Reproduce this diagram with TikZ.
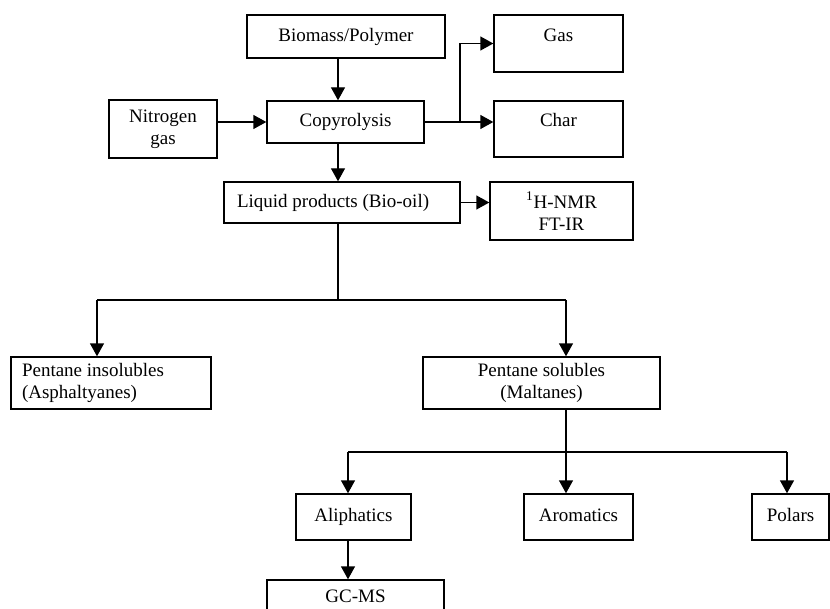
\documentclass[tikz,border=0pt]{standalone}
\usepackage{fontspec}
\setmainfont{Liberation Serif}
\usepackage{tikz}
\usetikzlibrary{arrows.meta}
\usetikzlibrary{positioning}

\begin{document}
\begin{tikzpicture}[x=0.5pt, y=-0.5pt,
                line width=0.7pt,
                blk/.style 2 args={draw, rectangle, inner sep=0pt,
                    minimum width=#1pt,
                    minimum height=#2pt,
                    align=center,
                    font=\fontsize{9.5}{11.2}\selectfont},
                oneline/.style={text height=6.8pt, text depth=2.1pt},
                toptext/.style={text height=6.8pt, text depth=9pt},
                lefttext/.style={align=flush left, text width=#1pt},
                arr/.style={-{Triangle[length=6.5pt,width=7pt]}}]
                \useasboundingbox (0,0) rectangle (830,609);
                \node[blk={99}{21.5},oneline](bio) at (346, 36.5) {Biomass/Polymer};
                \node[blk={78.5}{21},oneline](copy) at (345.5, 122) {Copyrolysis};
                \node[blk={54}{29}](nit) at (163, 129) {Nitrogen\\gas};
                \node[blk={64.5}{28.5},toptext](gas) at (558.5, 43.5) {Gas};
                \node[blk={64.5}{28},toptext](char) at (558.5, 129) {Char};
                \node[blk={118}{20.5},oneline,lefttext=105,inner xsep=6.5pt](liq) at (342, 202.5) {Liquid products (Bio-oil)};
                \node[blk={71.5}{29}](nmr) at (561.5, 211) {\textsuperscript{1}H-NMR\\FT-IR};
                \node[blk={100}{26},lefttext=89,inner xsep=5.5pt](ins) at (111, 383) {Pentane insolubles\\(Asphaltyanes)};
                \node[blk={118.5}{26}](sol) at (541.5, 383) {Pentane solubles\\(Maltanes)};
                \node[blk={57.5}{23},oneline](ali) at (353.5, 517) {Aliphatics};
                \node[blk={54.5}{23},oneline](aro) at (578.5, 517) {Aromatics};
                \node[blk={38.5}{23},oneline](pol) at (790.5, 517) {Polars};
                \node[blk={88.5}{18},oneline](gcms) at (355.5, 598) {GC-MS};
                \coordinate (trunk) at (338, 0);
                \coordinate (jn) at (460, 122);
                \coordinate (b1) at (97, 300);
                \coordinate (b2) at (566, 300);
                \coordinate (c1) at (348, 452);
                \coordinate (c2) at (566, 452);
                \coordinate (c3) at (787, 452);
                \draw[arr] (bio.south -| trunk) -- (copy.north -| trunk);
                \draw[arr] (nit.east |- copy.west) -- (copy.west);
                \draw (copy.east) -- (jn);
                \draw[arr] (jn) |- (gas.west);
                \draw[arr] (jn) -- (char.west |- jn);
                \draw[arr] (copy.south -| trunk) -- (liq.north -| trunk);
                \draw[arr] (liq.east) -- (liq.east -| nmr.west);
                \draw (liq.south -| trunk) -- (trunk |- b1);
                \draw (b1) -- (b2);
                \draw[arr] (b1) -- (ins.north -| b1);
                \draw[arr] (b2) -- (sol.north -| b2);
                \draw (sol.south -| c2) -- (c2);
                \draw (c1) -- (c3);
                \draw[arr] (c1) -- (ali.north -| c1);
                \draw[arr] (c2) -- (aro.north -| c2);
                \draw[arr] (c3) -- (pol.north -| c3);
                \draw[arr] (ali.south -| c1) -- (gcms.north -| c1);
            \end{tikzpicture}
\end{document}
